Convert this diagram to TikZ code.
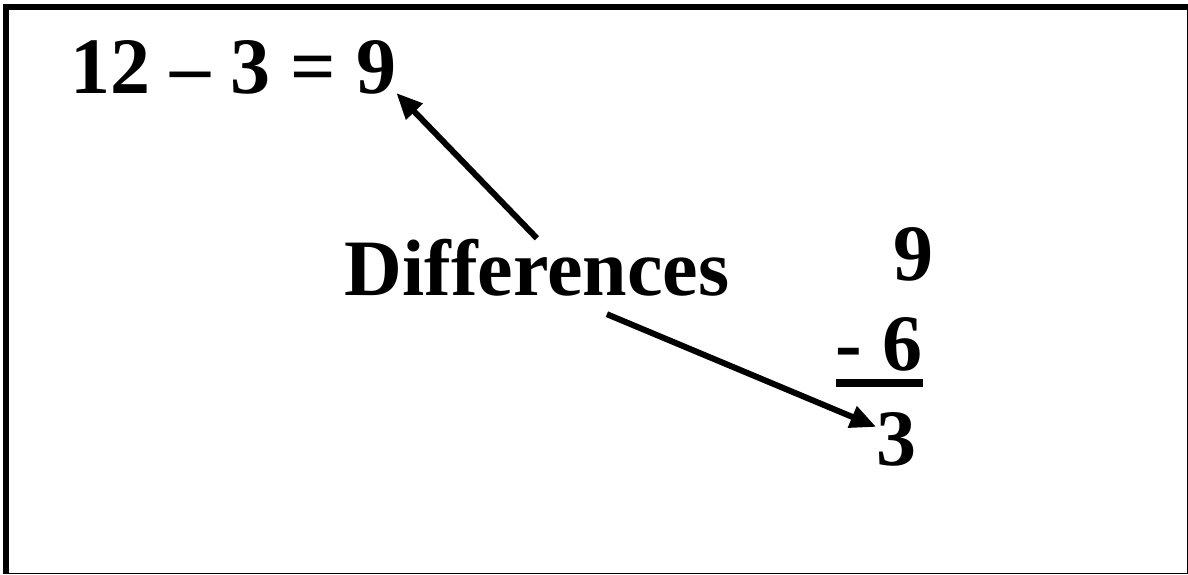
\documentclass[tikz,border=0pt]{standalone}
\usepackage{fontspec}
\setmainfont{Liberation Serif}
\usetikzlibrary{arrows.meta, positioning, calc}

\begin{document}
\begin{tikzpicture}[
        x=0.5pt, y=-0.5pt,
        bigtext/.style={inner sep=0pt, font=\fontsize{40}{48}\selectfont\bfseries},
        arrow/.style={-{Triangle[length=13pt, width=11pt]}, line width=3pt},
    ]
    \useasboundingbox (0,0) rectangle (1188,574);
    % frame
    \draw[line width=3pt] (1188,7) -- (6,7) -- (6,574);
    \draw[line width=0.8pt] (1187.4,7) -- (1187.4,573.4) -- (6,573.4);

    \node[bigtext, anchor=base west] (eq) at (70,93) {12 -- 3 = 9};
    \node[bigtext, anchor=base west] (diff) at (344,295) {Differences};
    \node[bigtext, anchor=base east] (top) at (934,280) {9};
    \node[bigtext, anchor=base east] (sub) at (923,370) {- 6};
    \node[bigtext, anchor=base east] (res) at (917,465) {3};

    \draw[line width=4pt] ([yshift=-6.5pt]sub.base west) -- ([yshift=-6.5pt]sub.base east);

    \draw[arrow] (diff.north) -- (eq.base east);
    \draw[arrow] ([xshift=35pt, yshift=-9pt]diff.south) -- ([yshift=6pt]res.west);
\end{tikzpicture}
\end{document}
